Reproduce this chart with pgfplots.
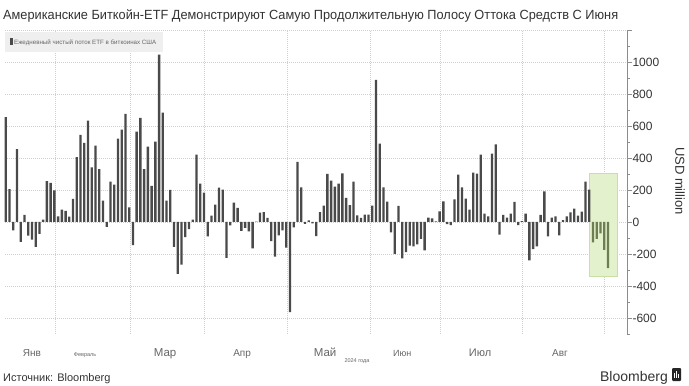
\documentclass[border=0pt]{standalone}
\usepackage{fontspec}
\setmainfont{Liberation Sans}
\usepackage{pgfplots}
\pgfplotsset{compat=1.18}
\usepackage{pgfplotstable}

\definecolor{bargrey}{HTML}{4A4A4A}
\definecolor{bargreen}{HTML}{6E7D52}
\definecolor{boxfill}{HTML}{E3F1CC}
\definecolor{boxdraw}{HTML}{C9DFA6}
\definecolor{gridc}{HTML}{CFCFCF}
\definecolor{axc}{HTML}{8C8C8C}
\definecolor{txt}{HTML}{333333}
\definecolor{lbl}{HTML}{666666}
\definecolor{legfill}{HTML}{EFEFEF}

\pgfplotstableread{
x y
0 655
1 205
2 -52
3 456
4 -125
5 44
6 -85
7 -110
8 -156
9 -75
10 15
11 256
12 244
13 198
14 35
15 77
16 69
17 33
18 144
19 406
20 544
21 494
22 633
23 342
24 477
25 331
26 133
27 -31
28 252
29 233
30 521
31 577
32 675
33 92
34 -144
35 565
36 650
37 331
38 471
39 225
40 502
41 1046
42 683
43 133
44 200
45 -156
46 -325
47 -267
48 -94
49 -45
50 15
51 421
52 240
53 183
54 -90
55 40
56 108
57 215
58 202
59 -225
60 -21
61 121
62 88
63 -56
64 -37
65 -58
66 -165
67 3
68 58
69 62
70 25
71 -119
72 -217
73 -83
74 -52
75 -160
76 -563
77 -33
78 375
79 217
80 -12
81 10
82 -8
83 -88
84 62
85 102
86 300
87 258
88 221
89 240
90 304
91 150
92 106
93 252
94 42
95 25
96 46
97 46
98 102
99 888
100 490
101 217
102 127
103 -65
104 -200
105 100
106 -227
107 -188
108 -148
109 -152
110 -140
111 -106
112 -177
113 27
114 23
115 4
116 67
117 129
118 -13
119 -20
120 142
121 296
122 217
123 146
124 77
125 308
126 302
127 421
128 52
129 35
130 427
131 485
132 -79
133 44
134 27
135 52
136 125
137 -19
138 5
139 52
140 -240
141 -169
142 -152
143 44
144 192
145 -90
146 27
147 35
148 -83
149 11
150 35
151 60
152 83
153 40
154 65
155 252
156 202
}\greydata

\pgfplotstableread{
x y
157 -127
158 -105
159 -71
160 -175
161 -288
}\greendata

\begin{document}
\begin{tikzpicture}[x=1pt,y=1pt]
\useasboundingbox (-5,-52) rectangle (684,334);
\begin{axis}[
  at={(0,0)}, anchor=south west,
  scale only axis, width=622pt, height=304pt,
  xmin=-0.2, xmax=166.1, ymin=-700, ymax=1200,
  axis y line=right, axis x line=bottom,
  x axis line style={draw=none},
  y axis line style={draw=axc, line width=0.8pt, -},
  ytick={-600,-400,-200,0,200,400,600,800,1000,1200},
  yticklabels={-600,-400,-200,0,200,400,600,800,1000,{}},
  minor ytick={-700,-500,-300,-100,100,300,500,700,900,1100},
  tick align=outside,
  major tick length=5pt, minor tick length=3pt,
  ytick style={draw=axc, line width=0.6pt},
  minor y tick style={draw=axc, line width=0.5pt},
  yticklabel style={font=\fontsize{12}{14}\selectfont, text=txt, xshift=-3pt},
  ymajorgrids,
  grid style={draw=gridc, line width=0.5pt, dash pattern=on 1pt off 1pt},
  xtick={7,21.2,42.6,63.2,85.4,106,126.8,148.2},
  xticklabels={
    {\fontsize{10}{12}\selectfont Янв},
    {\fontsize{5.5}{6}\selectfont Февраль},
    {\fontsize{11.5}{12}\selectfont Мар},
    {\fontsize{10}{12}\selectfont Апр},
    {\fontsize{11.5}{12}\selectfont Май},
    {\fontsize{9}{12}\selectfont Июн},
    {\fontsize{11}{12}\selectfont Июл},
    {\fontsize{10}{12}\selectfont Авг}},
  xtick style={draw=none},
  xticklabel style={text=lbl, anchor=base, yshift=-17pt},
  extra x ticks={13.2,33.2,53.0,75.2,97.4,116.1,138.2,160.0},
  extra x tick labels={},
  extra x tick style={grid=major, major tick length=0pt},
  clip=false,
]
\addplot[fill=boxfill, draw=boxdraw, line width=0.5pt] coordinates {(156,-337) (163.4,-337) (163.4,306) (156,306)} -- cycle;
\addplot[ybar, bar width=0.62, bar shift=0pt, fill=bargrey, draw=none] table[x=x,y=y] {\greydata};
\addplot[ybar, bar width=0.62, bar shift=0pt, fill=bargreen, draw=none] table[x=x,y=y] {\greendata};
\end{axis}
% title
\node[anchor=base west, inner sep=0pt, text=txt, xscale=0.96] at (-2,314) {\fontsize{13.3}{15}\selectfont Американские Биткойн-ETF Демонстрируют Самую Продолжительную Полосу Оттока Средств С Июня};
% legend box
\fill[legfill] (0,282) rectangle (158,302);
\fill[bargrey] (5,289) rectangle (8.5,295.5);
\node[anchor=base west, inner sep=0pt, text=lbl] at (9,289.5) {\fontsize{6.2}{7}\selectfont Ежедневный чистый поток ETF в биткоинах США};
% y label
\node[rotate=-90, anchor=center, inner sep=0pt, text=txt] at (675,153) {\fontsize{13}{15}\selectfont USD million};
% year
\node[anchor=base, inner sep=0pt, text=lbl] at (352,-28) {\fontsize{5.5}{6}\selectfont 2024 года};
% source
\node[anchor=base west, inner sep=0pt, text=txt] at (-2,-47) {\fontsize{11}{13}\selectfont Источник: Bloomberg};
\node[anchor=base east, inner sep=0pt, text=txt] at (663,-47) {\fontsize{14}{16}\selectfont Bloomberg};
\fill[black!85, rounded corners=1pt] (667,-47) rectangle (676,-34);
\fill[white] (669,-44) rectangle (670,-39);
\fill[white] (671,-44) rectangle (672,-37);
\fill[white] (673,-44) rectangle (674,-40);
\end{tikzpicture}
\end{document}
